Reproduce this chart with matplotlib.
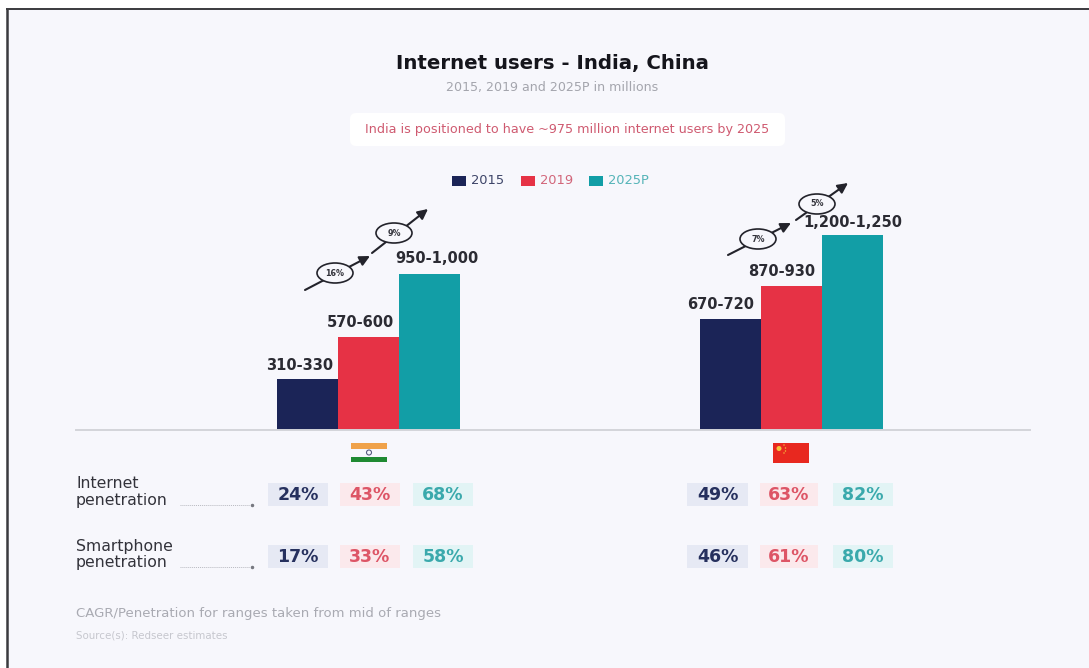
import matplotlib
matplotlib.use("Agg")
import matplotlib.pyplot as plt
from matplotlib.patches import Rectangle, FancyBboxPatch, Ellipse

plt.rcParams['font.family'] = ['DejaVu Sans']

# Internet users in millions, as low-high ranges with the midpoint used for bar height
countries = ["India", "China"]
years = ["2015", "2019", "2025P"]
range_labels = {
    "India": ["310-330", "570-600", "950-1,000"],
    "China": ["670-720", "870-930", "1,200-1,250"],
}
range_mids = {
    "India": [320, 585, 975],
    "China": [695, 900, 1225],
}
cagr_labels = {"India": ["16%", "9%"], "China": ["7%", "5%"]}
internet_pen = {"India": ["24%", "43%", "68%"], "China": ["49%", "63%", "82%"]}
smartphone_pen = {"India": ["17%", "33%", "58%"], "China": ["46%", "61%", "80%"]}

NAVY, RED, TEAL = "#1b2457", "#e63245", "#129ea6"
year_colors = [NAVY, RED, TEAL]
tints = ["#e6e9f4", "#fbe9ec", "#e2f4f5"]
text_colors = ["#26305e", "#dd5566", "#3aa9ac"]
BG = "#f7f7fc"

W, H = 1089, 668
fig = plt.figure(figsize=(W / 100, H / 100), dpi=100, facecolor="white")

# Overlay in pixel coordinates, y pointing down
ov = fig.add_axes([0, 0, 1, 1], zorder=1)
ov.set_xlim(0, W)
ov.set_ylim(H, 0)
ov.axis("off")

# Panel background with a dark rule along its top and left edges
ov.add_patch(Rectangle((7, 9), 1082, 659, fc=BG, ec="none"))
ov.plot([7, 7], [H, 8.5], color="#3a3a3e", lw=1.8, solid_capstyle="butt")
ov.plot([6, W], [8.5, 8.5], color="#3a3a3e", lw=1.4, solid_capstyle="butt")

# Bar axes: baseline at y=430, 6.27 million per pixel
BASE = 430
TOP = 170
PX = 6.27
x0, x1 = 76, 1030
ax = fig.add_axes([x0 / W, 1 - BASE / H, (x1 - x0) / W, (BASE - TOP) / H], zorder=2)
ax.patch.set_alpha(0)
spacing = 423
ax.set_xlim((x0 - 368.5) / spacing, (x1 - 368.5) / spacing)
ax.set_ylim(0, (BASE - TOP) * PX)
bar_w = 61 / spacing

# Nudges keep the range labels clear of the taller neighbouring bar
label_nudge = {
    "India": [(-6, 4.5), (-6, 4.5), (5, 6.0)],
    "China": [(-7, 5.0), (-7, 5.5), (0, 3.0)],
}
for i, c in enumerate(countries):
    for j, y in enumerate(years):
        xpos = i + (j - 1) * bar_w
        ax.bar(xpos, range_mids[c][j], width=bar_w, color=year_colors[j], linewidth=0)
        ax.annotate(range_labels[c][j], (xpos, range_mids[c][j]),
                    xytext=label_nudge[c][j], textcoords="offset points",
                    ha="center", va="bottom", fontsize=10.5, fontweight="bold",
                    color="#2b2b33")
ax.set_xticks([])
ax.set_yticks([])
for s in ("left", "right", "top"):
    ax.spines[s].set_visible(False)
ax.spines["bottom"].set_color("#d4d5da")
ax.spines["bottom"].set_linewidth(1.4)

# Title block
ov.text(552, 63, "Internet users - India, China", ha="center", va="center",
        fontsize=14.2, fontweight="bold", color="#15151c")
ov.text(552.5, 87, "2015, 2019 and 2025P in millions", ha="center", va="center",
        fontsize=9.1, color="#a4a5ad")
ov.add_patch(FancyBboxPatch((350, 113), 435, 33, boxstyle="round,pad=0,rounding_size=6",
                            fc="white", ec="none"))
ov.text(567.5, 130, "India is positioned to have ~975 million internet users by 2025",
        ha="center", va="center", fontsize=9.2, color="#cf5a70")

# Legend
legend_x = [452, 521, 589]
legend_text_colors = ["#3d4468", "#d2667a", "#55b4b8"]
for lx, y, col, tc in zip(legend_x, years, year_colors, legend_text_colors):
    ov.add_patch(Rectangle((lx, 176), 14, 10, fc=col, ec="none"))
    ov.text(lx + 19, 181, y, ha="left", va="center", fontsize=9.4, color=tc)


def growth_arrow(start, end, center, label):
    """One diagonal arrow segment with a CAGR bubble sitting on it."""
    ov.annotate("", xy=end, xytext=start,
                arrowprops=dict(arrowstyle="-|>,head_width=0.3,head_length=0.6",
                                color="#23232b", lw=1.5, shrinkA=0, shrinkB=0))
    ov.add_patch(Ellipse(center, 36, 20, fc=BG, ec="#23232b", lw=1.2, zorder=4))
    ov.text(*center, label, ha="center", va="center", fontsize=5.8,
            fontweight="bold", color="#33333b", zorder=5)


growth_arrow((305, 290), (370, 256), (335, 273), cagr_labels["India"][0])
growth_arrow((372, 253), (428, 209), (394, 233), cagr_labels["India"][1])
growth_arrow((728, 255), (791, 223), (758, 239), cagr_labels["China"][0])
growth_arrow((796, 220), (848, 183), (817, 204), cagr_labels["China"][1])

# India flag
ov.add_patch(Rectangle((351, 443), 36, 5.5, fc="#f0a24a", ec="none"))
ov.add_patch(Rectangle((351, 456.5), 36, 5.5, fc="#1f8a32", ec="none"))
ov.add_patch(Ellipse((369, 452.5), 5, 5, fc="none", ec="#555a80", lw=0.8))
# China flag
ov.add_patch(Rectangle((773, 443), 36, 19.5, fc="#e8281f", ec="none"))
ov.add_patch(Ellipse((779, 448.5), 5, 5, fc="#f5c63c", ec="none"))
for sx, sy in [(784, 445), (785.5, 448), (785.5, 451), (784, 453)]:
    ov.add_patch(Ellipse((sx, sy), 1.4, 1.4, fc="#f5c63c", ec="none"))

# Penetration rows: label, values, cell centre y, leader line y
rows = [("Internet\npenetration", internet_pen, 494, 505),
        ("Smartphone\npenetration", smartphone_pen, 556.5, 567)]
cell_x = {"India": [268, 340, 413], "China": [687, 760, 833]}
cell_w = {"India": [60, 60, 60], "China": [61, 58, 60]}
for name, table, cy, ly in rows:
    ov.text(76, cy - 2, name, ha="left", va="center", fontsize=11.3,
            color="#33333b", linespacing=1.15)
    ov.plot([180, 250], [ly, ly], color="#b8b9c0", lw=0.7, ls=(0, (1, 1)))
    ov.plot([252], [ly], marker="o", ms=1.5, color="#777880")
    for c in countries:
        for j in range(3):
            ov.add_patch(Rectangle((cell_x[c][j], cy - 11.5), cell_w[c][j], 23,
                                   fc=tints[j], ec="none"))
            ov.text(cell_x[c][j] + cell_w[c][j] / 2, cy + 0.5, table[c][j],
                    ha="center", va="center", fontsize=12.5, fontweight="bold",
                    color=text_colors[j])

# Footnotes
ov.text(76, 613, "CAGR/Penetration for ranges taken from mid of ranges",
        ha="left", va="center", fontsize=9.5, color="#a9aab2")
ov.text(76, 636, "Source(s): Redseer estimates", ha="left", va="center",
        fontsize=7.4, color="#c6c7ce")

fig.savefig("out.png", dpi=100, facecolor="white")
